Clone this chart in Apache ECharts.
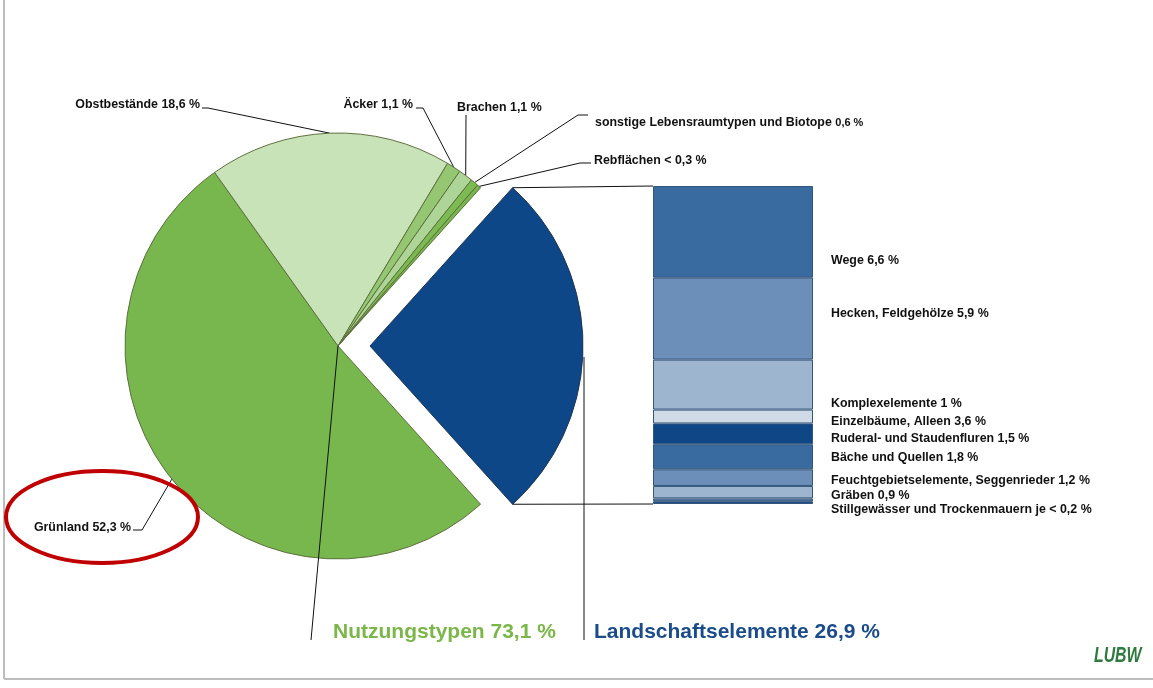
<!DOCTYPE html>
<html>
<head>
<meta charset="utf-8">
<script src="https://cdn.jsdelivr.net/npm/echarts@6/dist/echarts.min.js"></script>
<style>
  html, body { margin: 0; padding: 0; background: #fff; }
  #main { width: 1153px; height: 688px; }
</style>
</head>
<body>
<div id="main"></div>
<script>
// Pie: Landschaftselemente (exploded) + Nutzungstypen
var pieNames = ['Landschaftselemente', 'Grünland', 'Obstbestände', 'Äcker', 'Brachen', 'sonstige Lebensraumtypen und Biotope', 'Rebflächen'];
var pieValues = [26.9, 52.3, 18.6, 1.1, 1.1, 0.6, 0.3];
var pieLabels = ['', 'Grünland 52,3 %', 'Obstbestände 18,6 %', 'Äcker 1,1 %', 'Brachen 1,1 %', 'sonstige Lebensraumtypen und Biotope {s|0,6 %}', 'Rebflächen < 0,3 %'];
var pieColors = ['#0e4787', '#77b74e', '#c9e3b9', '#95c773', '#aed598', '#7cba52', '#77b74e'];

// Stacked bar: Landschaftselemente
var barNames = ['Wege', 'Hecken, Feldgehölze', 'Einzelbäume, Alleen', 'Komplexelemente', 'Ruderal- und Staudenfluren', 'Bäche und Quellen', 'Feuchtgebietselemente, Seggenrieder', 'Gräben', 'Stillgewässer', 'Trockenmauern'];
var barValues = [6.6, 5.9, 3.6, 1, 1.5, 1.8, 1.2, 0.9, 0.2, 0.2];
var barLabels = ['Wege 6,6 %', 'Hecken, Feldgehölze 5,9 %', 'Einzelbäume, Alleen 3,6 %', 'Komplexelemente 1 %', 'Ruderal- und Staudenfluren 1,5 %', 'Bäche und Quellen 1,8 %', 'Feuchtgebietselemente, Seggenrieder 1,2 %', 'Gräben 0,9 %', 'Stillgewässer und Trockenmauern je < 0,2 %', ''];
var barColors = ['#3a6ba0', '#6b8fb9', '#9db5ce', '#cfdae7', '#0f4686', '#3a6ba0', '#6b8fb9', '#9db5ce', '#6b8fb9', '#1d4d88'];

var groupTexts = ['Nutzungstypen 73,1 %', 'Landschaftselemente 26,9 %'];

// layout
var pieCenter = [338, 346];
var pieRadius = 213;
var explode = 32;
var pieLabelPos = [null, [131, 528, 'right'], [200, 105, 'right'], [413, 105, 'right'], [457, 108, 'left'], [595, 123, 'left'], [594, 161, 'left']];
var pieLeader = [null, [[142, 530], [133, 530]], [[208, 108], [202, 108]], [[423, 108], [416, 108]], [[466, 115], [466, 115]], [[578, 115], [588, 115]], [[580, 163], [591, 163]]];
var barLabelY = [261, 314, 422, 404, 439, 458, 481, 496, 510, 510];
var barBox = { left: 653, top: 186, width: 160, height: 318 };

var barTotal = 0;
barValues.forEach(function (v) { barTotal += v; });
var pieTotal = 0;
pieValues.forEach(function (v) { pieTotal += v; });
var halfBlue = pieValues[0] / pieTotal * 180;

var fontName = 'Liberation Sans, Arial, sans-serif';
var labelFont = { fontFamily: fontName, fontSize: 12.4, fontWeight: 'bold', color: '#111' };

var pieData = pieValues.map(function (v, i) {
  var item = {
    name: pieNames[i],
    value: v,
    itemStyle: { color: pieColors[i], borderColor: i === 0 ? '#1c3554' : '#5e703e', borderWidth: 1 }
  };
  if (i === 0) {
    item.selected = true;
    item.label = { show: false };
    item.labelLine = { show: false };
  }
  return item;
});

var barSeries = barValues.map(function (v, i) {
  return {
    type: 'bar',
    name: barNames[i],
    stack: 'le',
    barWidth: '100%',
    silent: true,
    data: [v],
    itemStyle: { color: barColors[i], borderColor: '#34557c', borderWidth: 1 },
    label: Object.assign({ show: barLabels[i] !== '', formatter: barLabels[i] }, labelFont),
    labelLayout: { x: 831, y: barLabelY[i], align: 'left', verticalAlign: 'middle' }
  };
});

// connector geometry from the exploded slice to the bar
var rad = halfBlue * Math.PI / 180;
var bx = pieCenter[0] + explode + pieRadius * Math.cos(rad);
var byTop = pieCenter[1] - pieRadius * Math.sin(rad);
var byBot = pieCenter[1] + pieRadius * Math.sin(rad);

var lineStyle = { stroke: '#111', lineWidth: 1 };

var myChart = echarts.init(document.getElementById('main'), null, { renderer: 'canvas' });
var option = {
  animation: false,
  backgroundColor: '#fff',
  title: [
    { text: groupTexts[0], left: 333, top: 622, padding: 0, textStyle: { fontFamily: fontName, fontSize: 21, fontWeight: 'bold', color: '#7ab648' } },
    { text: groupTexts[1], left: 594, top: 622, padding: 0, textStyle: { fontFamily: fontName, fontSize: 21, fontWeight: 'bold', color: '#1a4c8b' } }
  ],
  grid: { left: barBox.left, top: barBox.top, width: barBox.width, height: barBox.height },
  xAxis: { type: 'category', data: [''], show: false },
  yAxis: { type: 'value', inverse: true, min: 0, max: barTotal, show: false },
  graphic: [
    { type: 'line', z: 10, shape: { x1: 4, y1: 0, x2: 4, y2: 679 }, style: { stroke: '#bdbdbd', lineWidth: 2 } },
    { type: 'line', z: 10, shape: { x1: 4, y1: 679, x2: 1153, y2: 679 }, style: { stroke: '#bdbdbd', lineWidth: 2 } },
    { type: 'line', z: 10, shape: { x1: bx, y1: byTop, x2: barBox.left, y2: barBox.top }, style: lineStyle },
    { type: 'line', z: 10, shape: { x1: bx, y1: byBot, x2: barBox.left, y2: barBox.top + barBox.height }, style: lineStyle },
    { type: 'line', z: 10, shape: { x1: pieCenter[0], y1: pieCenter[1], x2: 311, y2: 640 }, style: lineStyle },
    { type: 'line', z: 10, shape: { x1: 584, y1: 357, x2: 584, y2: 640 }, style: lineStyle },
    { type: 'ellipse', z: 10, shape: { cx: 102, cy: 517, rx: 96, ry: 46 }, style: { fill: 'none', stroke: '#c00000', lineWidth: 4 } },
    { type: 'text', z: 10, x: 1094, y: 645, scaleX: 0.72, style: { text: 'LUBW', fontFamily: fontName, fontSize: 22, fontWeight: 'bold', fontStyle: 'italic', fill: '#2f7a3e' } }
  ],
  series: [
    {
      type: 'pie',
      center: pieCenter,
      radius: pieRadius,
      startAngle: halfBlue,
      clockwise: true,
      selectedMode: 'single',
      selectedOffset: explode,
      avoidLabelOverlap: false,
      silent: true,
      data: pieData,
      label: Object.assign({
        show: true,
        formatter: function (p) { return pieLabels[p.dataIndex]; },
        rich: { s: { fontFamily: fontName, fontSize: 11, fontWeight: 'bold', color: '#111' } }
      }, labelFont),
      labelLine: { show: true, length: 10, length2: 10, lineStyle: { color: '#111', width: 1 } },
      labelLayout: function (p) {
        var pos = pieLabelPos[p.dataIndex];
        if (!pos) return {};
        var pts;
        if (p.labelLinePoints) {
          pts = [p.labelLinePoints[0]].concat(pieLeader[p.dataIndex]);
        }
        return { x: pos[0], y: pos[1], align: pos[2], verticalAlign: 'middle', labelLinePoints: pts };
      }
    }
  ].concat(barSeries)
};
myChart.setOption(option);
</script>
</body>
</html>
